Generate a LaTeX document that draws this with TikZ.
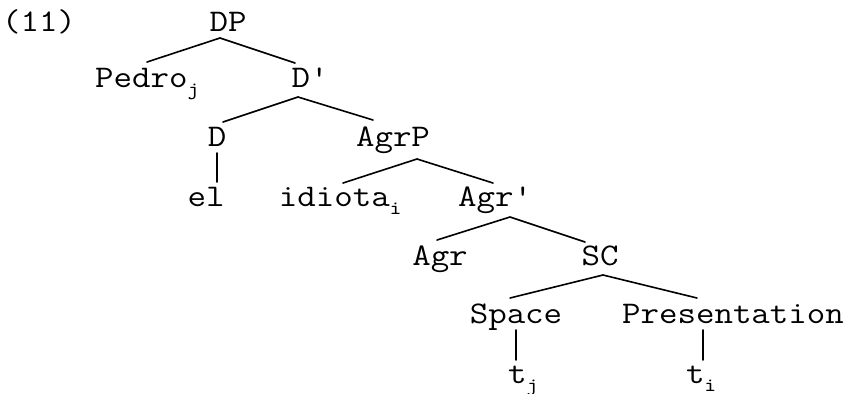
\documentclass[tikz,border=0pt]{standalone}
\usepackage{fontspec}
\setmainfont{Latin Modern Mono}[FakeStretch=1.14]
\newcommand{\idx}[1]{\raisebox{-4pt}{\fontsize{9.5}{9.5}\selectfont #1}}

\begin{document}
\begin{tikzpicture}[x=0.5pt, y=-0.5pt,
    lbl/.style={anchor=base, inner sep=0pt, font=\fontsize{15.75}{18}\selectfont},
    edge/.style={line width=0.8pt, line cap=round}
]
    \useasboundingbox (0,0) rectangle (847,393);

    % Example number
    \node[lbl] (num) at (39,31) {(11)};

    % Tree labels
    \node[lbl] (DP)     at (228,31)  {DP};
    \node[lbl] (Pedro)  at (147,87)  {Pedro\idx{j}};
    \node[lbl] (Dbar)   at (309,87)  {D\textquotesingle};
    \node[lbl] (D)      at (217,146) {D};
    \node[lbl] (AgrP)   at (393,146) {AgrP};
    \node[lbl] (el)     at (206,206) {el};
    \node[lbl] (idiota) at (340,206) {idiota\idx{i}};
    \node[lbl] (Agrbar) at (494,206) {Agr\textquotesingle};
    \node[lbl] (Agr)    at (440,265) {Agr};
    \node[lbl] (SC)     at (600,265) {SC};
    \node[lbl] (Space)  at (516,323) {Space};
    \node[lbl] (Pres)   at (733,323) {Presentation};
    \node[lbl] (tA)     at (523,383) {t\idx{j}};
    \node[lbl] (tB)     at (701,383) {t\idx{i}};

    % Branches
    \draw[edge] ([shift={(-8,7)}]DP.base) -- ([shift={(0,-25)}]Pedro.base);
    \draw[edge] ([shift={(-8,7)}]DP.base) -- ([shift={(-14,-24)}]Dbar.base);
    \draw[edge] ([shift={(-11,10)}]Dbar.base) -- ([shift={(6,-24)}]D.base);
    \draw[edge] ([shift={(-11,10)}]Dbar.base) -- ([shift={(-20,-26)}]AgrP.base);
    \draw[edge] ([shift={(0,7)}]D.base) -- ([shift={(11,-24)}]el.base);
    \draw[edge] ([shift={(24,13)}]AgrP.base) -- ([shift={(3,-23)}]idiota.base);
    \draw[edge] ([shift={(24,13)}]AgrP.base) -- ([shift={(-1,-23)}]Agrbar.base);
    \draw[edge] ([shift={(16,11)}]Agrbar.base) -- ([shift={(-3,-25)}]Agr.base);
    \draw[edge] ([shift={(16,11)}]Agrbar.base) -- ([shift={(-15,-23)}]SC.base);
    \draw[edge] ([shift={(3,10)}]SC.base) -- ([shift={(-6,-25)}]Space.base);
    \draw[edge] ([shift={(3,10)}]SC.base) -- ([shift={(-36,-25)}]Pres.base);
    \draw[edge] ([shift={(0,7)}]Space.base) -- ([shift={(-7,-23)}]tA.base);
    \draw[edge] ([shift={(-30,7)}]Pres.base) -- ([shift={(2,-23)}]tB.base);
\end{tikzpicture}
\end{document}
